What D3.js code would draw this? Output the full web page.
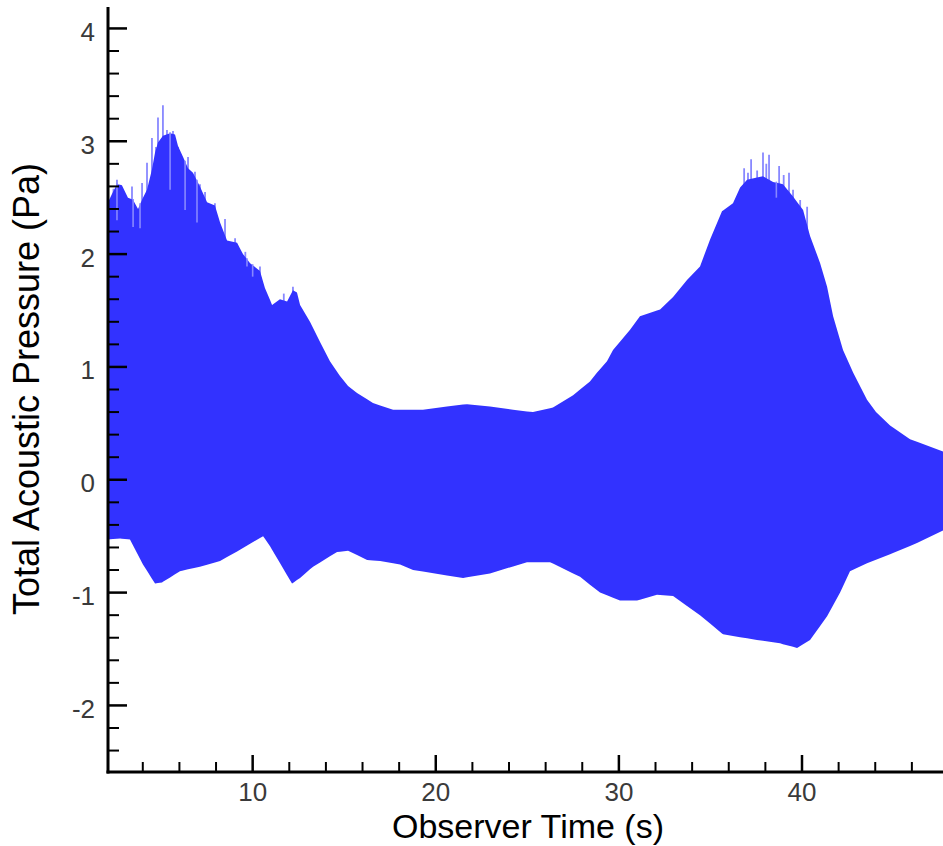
<!DOCTYPE html>
<html>
<head>
<meta charset="utf-8">
<script src="https://cdn.jsdelivr.net/npm/d3@7/dist/d3.min.js"></script>
<style>
  html, body { margin: 0; padding: 0; background: #fff; }
  svg { display: block; }
</style>
</head>
<body>
<svg id="chart" width="943" height="846"></svg>
<script>
// ---- Data (upper / lower envelope of the acoustic signal) ----
const upperTime = [2.10, 2.37, 2.59, 2.86, 3.19, 3.47, 3.74, 4.01, 4.23, 4.50, 4.67, 4.83, 5.10, 5.49, 5.76, 5.92,
  6.20, 6.47, 6.74, 7.12, 7.51, 7.94, 8.22, 8.60, 9.15, 9.47, 9.86, 10.40, 10.67, 11.06, 11.49, 11.88, 12.20,
  12.42, 12.59, 13.13, 13.68, 14.22, 14.77, 15.21, 15.70, 16.57, 17.67, 19.30, 20.61, 21.71, 22.96, 24.22,
  25.31, 26.40, 27.50, 28.42, 28.81, 29.35, 29.68, 30.61, 31.15, 32.25, 32.96, 33.72, 34.43, 34.98, 35.63,
  36.23, 36.62, 37.00, 37.87, 38.42, 38.96, 39.51, 40.06, 40.44, 40.99, 41.37, 41.70, 42.24, 42.79, 43.55,
  44.04, 44.81, 45.90, 47.70];
const upperValue = [2.46, 2.55, 2.62, 2.61, 2.50, 2.48, 2.40, 2.50, 2.57, 2.75, 2.90, 2.99, 3.05, 3.07, 3.06, 2.96,
  2.86, 2.76, 2.72, 2.60, 2.46, 2.43, 2.28, 2.12, 2.10, 2.00, 1.92, 1.85, 1.70, 1.55, 1.60, 1.58, 1.68,
  1.66, 1.55, 1.40, 1.22, 1.05, 0.92, 0.83, 0.77, 0.68, 0.62, 0.62, 0.65, 0.67, 0.65, 0.62,
  0.60, 0.64, 0.75, 0.87, 0.95, 1.05, 1.15, 1.33, 1.45, 1.51, 1.62, 1.77, 1.89, 2.13, 2.38,
  2.45, 2.59, 2.66, 2.69, 2.64, 2.62, 2.51, 2.39, 2.16, 1.92, 1.71, 1.45, 1.15, 0.95, 0.71,
  0.60, 0.48, 0.36, 0.25];

const lowerTime = [2.10, 2.76, 3.30, 4.01, 4.67, 5.05, 6.03, 7.12, 8.22, 9.31, 10.57, 10.95, 12.15, 12.59, 13.30,
  14.61, 15.21, 16.25, 16.96, 18.05, 18.76, 21.49, 22.96, 24.98, 26.24, 27.88, 28.97, 30.06, 30.99, 32.08,
  32.96, 34.43, 35.69, 37.54, 38.80, 39.73, 40.44, 41.37, 42.08, 42.62, 43.55, 44.97, 46.28, 47.70];
const lowerValue = [-0.53, -0.52, -0.53, -0.75, -0.92, -0.91, -0.81, -0.77, -0.72, -0.62, -0.50, -0.59, -0.92, -0.87, -0.77,
  -0.64, -0.63, -0.71, -0.72, -0.75, -0.80, -0.87, -0.83, -0.73, -0.73, -0.86, -1.00, -1.07, -1.07, -1.02,
  -1.03, -1.20, -1.37, -1.42, -1.45, -1.49, -1.42, -1.21, -1.00, -0.81, -0.74, -0.65, -0.56, -0.45];

// isolated peaks rising above the envelope
const spikeTime = [2.40, 2.59, 3.05, 3.41, 3.96, 4.23, 4.50, 4.72, 4.83, 5.10, 5.32, 5.65, 5.92, 6.47, 6.85, 7.12,
  7.40, 7.94, 8.49, 9.04, 9.60, 10.40, 11.70, 12.20, 36.84, 37.05, 37.22, 37.55, 37.87, 38.05, 38.20, 38.75,
  39.00, 39.29, 39.51, 39.90, 40.28];
const spikeValue = [2.58, 2.66, 2.52, 2.60, 2.63, 2.81, 3.03, 2.95, 3.21, 3.32, 3.10, 3.09, 2.95, 2.86, 2.73, 2.62,
  2.55, 2.45, 2.31, 2.14, 2.02, 1.89, 1.65, 1.71, 2.76, 2.72, 2.84, 2.74, 2.90, 2.80, 2.88, 2.78,
  2.70, 2.72, 2.57, 2.48, 2.42];

// narrow dips cutting into the envelope
const notchTime = [2.59, 3.47, 3.85, 5.49, 6.31, 6.96, 9.69, 10.00, 38.60];
const notchValue = [2.30, 2.24, 2.23, 2.57, 2.39, 2.28, 1.89, 1.80, 2.50];

const xMajor = [10, 20, 30, 40];
const yMajor = [-2, -1, 0, 1, 2, 3, 4];
const xTitle = "Observer Time (s)";
const yTitle = "Total Acoustic Pressure (Pa)";

// ---- Drawing ----
const svg = d3.select("#chart");
const x = d3.scaleLinear().domain([2.1, 47.7]).range([108, 943]);
const y = d3.scaleLinear().domain([-2.59, 4.19]).range([772, 7]);

const upper = upperTime.map((t, i) => [t, upperValue[i]]);
const lower = lowerTime.map((t, i) => [t, lowerValue[i]]);
const interp = arr => t => {
  const i = d3.bisector(d => d[0]).left(arr, t);
  if (i <= 0) return arr[0][1];
  if (i >= arr.length) return arr[arr.length - 1][1];
  const a = arr[i - 1], b = arr[i];
  return a[1] + (b[1] - a[1]) * (t - a[0]) / (b[0] - a[0]);
};
const upperAt = interp(upper), lowerAt = interp(lower);
const band = upper.map(d => ({t: d[0], hi: d[1], lo: lowerAt(d[0])}))
  .concat(lower.map(d => ({t: d[0], hi: upperAt(d[0]), lo: d[1]})))
  .sort((a, b) => a.t - b.t);

svg.append("clipPath").attr("id", "plotclip")
  .append("rect").attr("x", 108).attr("y", 0).attr("width", 835).attr("height", 772);

const g = svg.append("g").attr("clip-path", "url(#plotclip)");
const light = "#8888ff";

g.selectAll("line.spike").data(spikeTime.map((t, i) => [t, spikeValue[i]]))
  .join("line").attr("class", "spike")
  .attr("x1", d => x(d[0])).attr("x2", d => x(d[0]))
  .attr("y1", y(0)).attr("y2", d => y(d[1]))
  .attr("stroke", light).attr("stroke-width", 1.8);

g.append("path").datum(band)
  .attr("d", d3.area().x(d => x(d.t)).y0(d => y(d.lo)).y1(d => y(d.hi)))
  .attr("fill", "#3232ff");

g.selectAll("line.notch").data(notchTime.map((t, i) => [t, notchValue[i]]))
  .join("line").attr("class", "notch")
  .attr("x1", d => x(d[0])).attr("x2", d => x(d[0]))
  .attr("y1", d => y(upperAt(d[0])) - 1).attr("y2", d => y(d[1]))
  .attr("stroke", light).attr("stroke-width", 1.6);

// axes
const font = "'Liberation Sans', Arial, Helvetica, sans-serif";
const axisColor = "#000";

// y axis
svg.append("line").attr("x1", 108).attr("x2", 108).attr("y1", 7).attr("y2", 773.5)
  .attr("stroke", axisColor).attr("stroke-width", 3);
const yMinor = d3.range(-24, 42, 2).map(v => v / 10).filter(v => !yMajor.includes(v));
svg.selectAll("line.ymin").data(yMinor).join("line")
  .attr("x1", 108).attr("x2", 119).attr("y1", d => y(d)).attr("y2", d => y(d))
  .attr("stroke", axisColor).attr("stroke-width", 2);
svg.selectAll("line.ymaj").data(yMajor).join("line")
  .attr("x1", 108).attr("x2", 127).attr("y1", d => y(d)).attr("y2", d => y(d))
  .attr("stroke", axisColor).attr("stroke-width", 2.5);
svg.selectAll("text.ylab").data(yMajor).join("text")
  .attr("x", 95).attr("y", d => y(d) + 12.5)
  .attr("text-anchor", "end").attr("font-family", font).attr("font-size", 26)
  .attr("fill", "#3a3a3a").text(d => d);

// x axis
svg.append("line").attr("x1", 106.5).attr("x2", 943).attr("y1", 772).attr("y2", 772)
  .attr("stroke", axisColor).attr("stroke-width", 3);
const xMinor = d3.range(4, 48, 2).filter(v => !xMajor.includes(v));
svg.selectAll("line.xmin").data(xMinor).join("line")
  .attr("x1", d => x(d)).attr("x2", d => x(d)).attr("y1", 772).attr("y2", 762)
  .attr("stroke", axisColor).attr("stroke-width", 2);
svg.selectAll("line.xmaj").data(xMajor).join("line")
  .attr("x1", d => x(d)).attr("x2", d => x(d)).attr("y1", 772).attr("y2", 755)
  .attr("stroke", axisColor).attr("stroke-width", 2.5);
svg.selectAll("text.xlab").data(xMajor).join("text")
  .attr("x", d => x(d)).attr("y", 801)
  .attr("text-anchor", "middle").attr("font-family", font).attr("font-size", 26)
  .attr("fill", "#3a3a3a").text(d => d);

// titles
svg.append("text").attr("x", 528).attr("y", 838)
  .attr("text-anchor", "middle").attr("font-family", font).attr("font-size", 34)
  .attr("fill", "#000").text(xTitle);
svg.append("text").attr("transform", "translate(39,389) rotate(-90)")
  .attr("text-anchor", "middle").attr("font-family", font).attr("font-size", 36)
  .attr("fill", "#000").text(yTitle);
</script>
</body>
</html>
